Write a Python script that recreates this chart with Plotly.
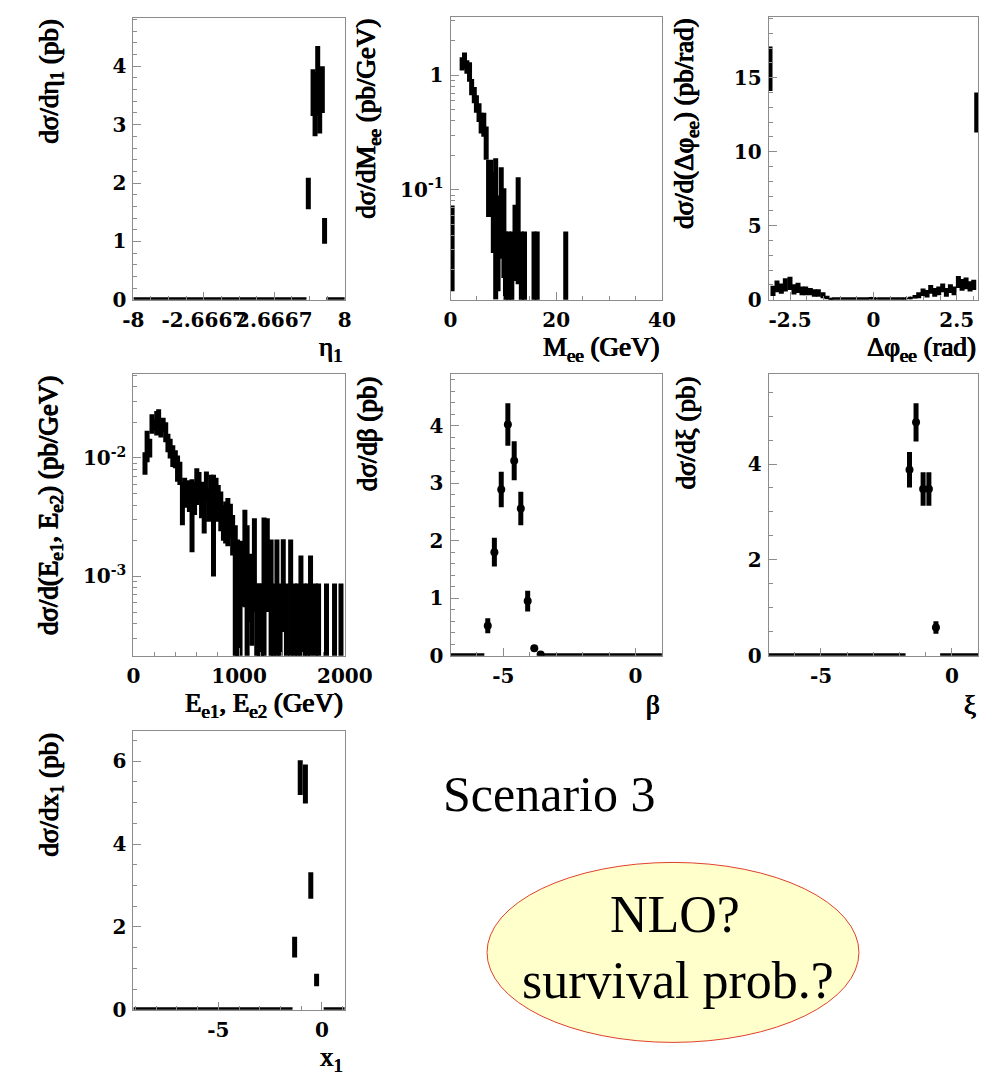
import numpy as np
import plotly.graph_objects as go

W, H = 1001, 1082

# ---------------- data ----------------
# eta_1
eta_x = [5.24, 5.60, 5.75, 5.95, 6.10, 6.30, 6.47]
eta_v = [1.82, 3.55, 3.35, 3.75, 3.40, 3.60, 1.18]
eta_e = [0.27, 0.40, 0.55, 0.60, 0.55, 0.40, 0.22]
eta_zero = [(-8.0, 5.1), (6.6, 8.0)]

# M_ee
mee_x = [0.3, 2.2, 2.65, 3.1, 3.6, 4.0, 4.5, 4.9, 5.4, 5.8, 6.3, 6.75, 7.2, 7.65, 8.1, 8.55,
         9.0, 9.6, 10.1, 10.4, 11.0, 11.6, 12.2, 12.8, 13.4, 14.0, 15.8, 16.4, 21.8]
mee_v = [0.043, 1.27, 1.36, 1.19, 1.09, 0.80, 0.68, 0.57, 0.48, 0.39, 0.38, 0.27, 0.12, 0.13,
         0.085, 0.10, 0.051, 0.091, 0.060, 0.0216, 0.0216, 0.0216, 0.045, 0.072, 0.0216,
         0.0216, 0.0216, 0.0216, 0.0216]
mee_e = [0.030, 0.17, 0.22, 0.16, 0.21, 0.13, 0.11, 0.10, 0.09, 0.08, 0.09, 0.087, 0.062, 0.053,
         0.057, 0.089, 0.038, 0.066, 0.043, 0.0216, 0.0216, 0.0216, 0.029, 0.057, 0.0216,
         0.0216, 0.0216, 0.0216, 0.0216]

# Delta phi_ee
dphi_x = [-3.10, -3.01, -2.89, -2.76, -2.64, -2.50, -2.38, -2.26, -2.14, -2.03, -1.89, -1.77,
          -1.65, -1.51, -1.39, -1.28, -0.06, 0.06, 0.96, 1.11, 1.25, 1.36, 1.49, 1.61, 1.72,
          1.84, 1.96, 2.08, 2.19, 2.31, 2.42, 2.55, 2.66, 2.78, 2.90, 3.01, 3.10]
dphi_v = [15.6, 0.6, 0.9, 0.75, 1.0, 1.1, 0.7, 0.8, 0.6, 0.6, 0.55, 0.45, 0.45, 0.3, 0.15, 0.05,
          0.1, 0.08, 0.08, 0.12, 0.2, 0.3, 0.5, 0.4, 0.7, 0.5, 0.6, 0.8, 0.5, 0.75, 0.6, 1.2,
          1.0, 1.1, 0.9, 1.0, 12.65]
dphi_e = [1.5, 0.35, 0.4, 0.35, 0.45, 0.45, 0.35, 0.35, 0.3, 0.3, 0.25, 0.25, 0.25, 0.2, 0.12,
          0.05, 0.08, 0.06, 0.06, 0.08, 0.12, 0.2, 0.25, 0.25, 0.3, 0.3, 0.3, 0.3, 0.3, 0.3,
          0.3, 0.4, 0.4, 0.4, 0.35, 0.35, 1.35]
dphi_zero = [(-1.25, -0.12), (0.12, 0.92)]

# E_e1, E_e2
en_x = [110, 130, 155, 176, 197, 221, 239, 261, 282, 306, 327, 348, 373, 397, 418, 440, 464,
        485, 509, 530, 555, 579, 600, 621, 645, 670, 691, 712, 736, 758, 782, 803, 827, 852,
        873, 894, 918, 939, 964, 985, 1009, 1030, 1055, 1076, 1100, 1121, 1145, 1167, 1191,
        1212, 1236, 1267, 1303, 1327, 1358, 1388, 1418, 1448, 1488, 1524, 1555, 1585, 1615,
        1645, 1676, 1721, 1752, 1827, 1903, 1964]
en_v = [0.0092, 0.0131, 0.0123, 0.0197, 0.0191, 0.0202, 0.0217, 0.0181, 0.0192, 0.0168,
        0.0136, 0.0122, 0.0106, 0.0099, 0.0084, 0.0076, 0.0045, 0.0053, 0.0050, 0.0050,
        0.0041, 0.0048, 0.0061, 0.0060, 0.0047, 0.0036, 0.0060, 0.0042, 0.0055, 0.0041,
        0.0053, 0.0044, 0.0038, 0.0030, 0.0031, 0.0032, 0.0031, 0.0024, 0.0014, 0.00105,
        0.00044, 0.00128, 0.0021, 0.0014, 0.00098, 0.00056, 0.0018, 0.00044, 0.00044,
        0.00044, 0.0016, 0.0018, 0.00105, 0.00044, 0.00105, 0.00044, 0.0012, 0.00044,
        0.00105, 0.00044, 0.00044, 0.00077, 0.00044, 0.00044, 0.00077, 0.00044, 0.00044,
        0.00044, 0.00044, 0.00044]
en_e = [0.0020, 0.0039, 0.0022, 0.0037, 0.0021, 0.0047, 0.0041, 0.0032, 0.0027, 0.0032,
        0.0024, 0.0023, 0.0022, 0.0017, 0.0021, 0.0017, 0.0018, 0.0015, 0.0009, 0.0015,
        0.0025, 0.0015, 0.0021, 0.0016, 0.0016, 0.0013, 0.0017, 0.0013, 0.0017, 0.0031,
        0.0015, 0.0015, 0.0014, 0.0010, 0.0012, 0.0014, 0.0010, 0.0009, 0.0013, 0.0010,
        0.00043, 0.00072, 0.00155, 0.0013, 0.00057, 0.0003, 0.0013, 0.00043, 0.00043,
        0.00043, 0.00155, 0.0013, 0.0010, 0.00043, 0.0010, 0.00043, 0.00086, 0.00043,
        0.0010, 0.00043, 0.00043, 0.00073, 0.00043, 0.00043, 0.00073, 0.00043, 0.00043,
        0.00043, 0.00043, 0.00043]

# beta
beta_x = [-5.59, -5.34, -5.08, -4.83, -4.59, -4.34, -4.08, -3.83, -3.59]
beta_v = [0.52, 1.80, 2.89, 4.02, 3.39, 2.56, 0.95, 0.13, 0.02]
beta_e = [0.13, 0.25, 0.31, 0.37, 0.34, 0.29, 0.18, 0.05, 0.02]
beta_zero = [(-7.0, -5.72), (-3.5, 1.0)]

# xi
xi_x = [-1.62, -1.37, -1.10, -0.88, -0.61]
xi_v = [3.88, 4.87, 3.48, 3.48, 0.59]
xi_e = [0.37, 0.40, 0.35, 0.35, 0.13]
xi_zero = [(-7.0, -1.77), (-0.45, 1.0)]

# x_1
x1_x = [-1.32, -1.05, -0.80, -0.54, -0.26]
x1_v = [1.51, 5.60, 5.45, 3.00, 0.72]
x1_e = [0.25, 0.42, 0.47, 0.32, 0.15]
x1_zero = [(-9.1, -1.42), (0.08, 1.1)]

# ---------------- layout helpers ----------------
SHADOW = "0.6px 0 0 #000, -0.6px 0 0 #000, 0 0.3px 0 #000"
TICKF = dict(family="DejaVu Serif", size=20, color="black", weight="bold")
XTF = dict(family="Liberation Serif", size=27, color="black", shadow=SHADOW)
YTF = dict(family="Liberation Serif", size=27, color="black", shadow=SHADOW)

frames = {
    1: (119, 339, 10, 295),
    2: (449, 669, 9, 295),
    3: (780, 998, 9, 295),
    4: (119, 339, 370, 655),
    5: (449, 669, 370, 655),
    6: (780, 998, 370, 655),
    7: (119, 339, 731, 1013),
}

fig = go.Figure()


def ax_names(i):
    return ("x" if i == 1 else f"x{i}"), ("y" if i == 1 else f"y{i}")


def add_err(i, xs, vs, es, floor=None, marker_size=3, thick=5):
    xa, ya = ax_names(i)
    vs = np.array(vs, float)
    es = np.array(es, float)
    em = np.minimum(es, vs - floor) if floor is not None else es
    fig.add_trace(go.Scatter(
        x=xs, y=vs, mode="markers", xaxis=xa, yaxis=ya, showlegend=False,
        marker=dict(color="black", size=marker_size, symbol="circle"),
        error_y=dict(type="data", symmetric=False, array=es, arrayminus=em,
                     thickness=thick, width=0, color="black"),
    ))


def add_zero(i, segs):
    xa, ya = ax_names(i)
    xs, ys = [], []
    for a, b in segs:
        xs += [a, b, None]
        ys += [0, 0, None]
    fig.add_trace(go.Scatter(x=xs, y=ys, mode="lines", xaxis=xa, yaxis=ya,
                             showlegend=False, line=dict(color="black", width=5)))


add_err(1, eta_x, eta_v, eta_e)
add_zero(1, eta_zero)
add_err(2, mee_x, mee_v, mee_e, floor=0.008)
add_err(3, dphi_x, dphi_v, dphi_e)
add_zero(3, dphi_zero)
add_err(4, en_x, en_v, en_e, floor=1.5e-4)
add_err(5, beta_x, beta_v, beta_e, marker_size=8)
add_zero(5, beta_zero)
add_err(6, xi_x, xi_v, xi_e, marker_size=8)
add_zero(6, xi_zero)
add_err(7, x1_x, x1_v, x1_e)
add_zero(7, x1_zero)

log_minor = [k * 10.0 ** d for d in range(-5, 1) for k in range(2, 10)]

axcfg = {
    1: dict(x=dict(range=[-8, 8], tickmode="array", tickvals=[-8, -2.6667, 2.6667, 8],
                   ticktext=["-8", "-2.6667", "2.6667", "8"], minor_dtick=4/3, minor_tick0=-8),
            y=dict(range=[0, 4.83], dtick=1, minor_dtick=0.2)),
    2: dict(x=dict(range=[0, 40], dtick=20, minor_dtick=5),
            y=dict(type="log", range=[-1.96, 0.51], tickmode="array", tickvals=[0.1, 1],
                   ticktext=["10<sup>-1</sup>", "1"], minor_vals=log_minor)),
    3: dict(x=dict(range=[-np.pi, np.pi], tickmode="array", tickvals=[-2.5, 0, 2.5],
                   ticktext=["-2.5", "0", "2.5"], minor_dtick=0.5, minor_tick0=0),
            y=dict(range=[0, 19.1], dtick=5, minor_dtick=1)),
    4: dict(x=dict(range=[0, 2000], dtick=1000, minor_dtick=200),
            y=dict(type="log", range=[-3.67, -1.29], tickmode="array", tickvals=[0.001, 0.01],
                   ticktext=["10<sup>-3</sup>", "10<sup>-2</sup>"], minor_vals=log_minor)),
    5: dict(x=dict(range=[-7, 1], tickmode="array", tickvals=[-5, 0], ticktext=["-5", "0"],
                   minor_dtick=1, minor_tick0=0),
            y=dict(range=[0, 4.9], dtick=1, minor_dtick=0.2)),
    6: dict(x=dict(range=[-7, 1], tickmode="array", tickvals=[-5, 0], ticktext=["-5", "0"],
                   minor_dtick=1, minor_tick0=0),
            y=dict(range=[0, 5.88], dtick=2, minor_dtick=0.5)),
    7: dict(x=dict(range=[-9.1, 1.1], tickmode="array", tickvals=[-5, 0], ticktext=["-5", "0"],
                   minor_dtick=1, minor_tick0=0),
            y=dict(range=[0, 6.73], dtick=2, minor_dtick=0.5)),
}

FRAME = "#8c8c8c"
layout = dict(width=W, height=H, margin=dict(l=0, r=0, t=0, b=0),
              paper_bgcolor="white", plot_bgcolor="white", showlegend=False)

for i, (l, r, t, b) in frames.items():
    xa, ya = ax_names(i)
    xkey = "xaxis" if i == 1 else f"xaxis{i}"
    ykey = "yaxis" if i == 1 else f"yaxis{i}"
    cfg = axcfg[i]
    common = dict(showgrid=False, zeroline=False, showline=True, mirror=True,
                  linecolor=FRAME, linewidth=1, ticks="inside", ticklen=8,
                  tickcolor=FRAME, tickwidth=1, tickfont=TICKF, ticklabelstandoff=2,
                  tickangle=0)
    for key, c, dom, anchor in ((xkey, cfg["x"], [l / W, r / W], ya),
                                (ykey, cfg["y"], [1 - b / H, 1 - t / H], xa)):
        d = dict(common)
        d["domain"] = dom
        d["anchor"] = anchor
        c = dict(c)
        minor = dict(ticks="inside", ticklen=4, tickcolor=FRAME, showgrid=False)
        if "minor_dtick" in c:
            minor["dtick"] = c.pop("minor_dtick")
        if "minor_tick0" in c:
            minor["tick0"] = c.pop("minor_tick0")
        if "minor_vals" in c:
            minor["tickmode"] = "array"
            minor["tickvals"] = c.pop("minor_vals")
        d.update(c)
        d["minor"] = minor
        layout[key] = d

fig.update_layout(**layout)

ytitles = {
    1: "dσ/dη<sub>1</sub> (pb)",
    2: "dσ/dM<sub>ee</sub> (pb/GeV)",
    3: "dσ/d(Δφ<sub>ee</sub>) (pb/rad)",
    4: "dσ/d(E<sub>e1</sub>, E<sub>e2</sub>) (pb/GeV)",
    5: "dσ/dβ (pb)",
    6: "dσ/dξ (pb)",
    7: "dσ/dx<sub>1</sub> (pb)",
}
xtitles = {
    1: "η<sub>1</sub>",
    2: "M<sub>ee</sub> (GeV)",
    3: "Δφ<sub>ee</sub> (rad)",
    4: "E<sub>e1</sub>, E<sub>e2</sub> (GeV)",
    5: "β",
    6: "ξ",
    7: "x<sub>1</sub>",
}
for i, (l, r, t, b) in frames.items():
    fig.add_annotation(text=ytitles[i], xref="paper", yref="paper",
                       x=(l - 86) / W, y=1 - t / H, xanchor="center", yanchor="top",
                       textangle=-90, showarrow=False, font=YTF)
    fig.add_annotation(text=xtitles[i], xref="paper", yref="paper", x=r / W,
                       y=1 - (b + 50) / H, xanchor="right", yanchor="middle",
                       showarrow=False, font=XTF)

fig.add_shape(type="circle", xref="paper", yref="paper", x0=487 / W, x1=874 / W,
              y0=1 - 1046 / H, y1=1 - 864 / H, fillcolor="#ffffcc",
              line=dict(color="#e0412b", width=1), layer="below")
BIGF = dict(family="Liberation Serif", size=52, color="black")
fig.add_annotation(text="Scenario 3", xref="paper", yref="paper", x=552 / W, y=1 - 795 / H,
                   xanchor="center", yanchor="middle", showarrow=False,
                   font=dict(family="Liberation Serif", size=50, color="black"))
fig.add_annotation(text="NLO?", xref="paper", yref="paper", x=683 / W, y=1 - 917 / H,
                   xanchor="center", yanchor="middle", showarrow=False, font=BIGF)
fig.add_annotation(text="survival prob.?", xref="paper", yref="paper", x=686 / W,
                   y=1 - 983 / H, xanchor="center", yanchor="middle", showarrow=False,
                   font=BIGF)

fig.write_html("out.html")
